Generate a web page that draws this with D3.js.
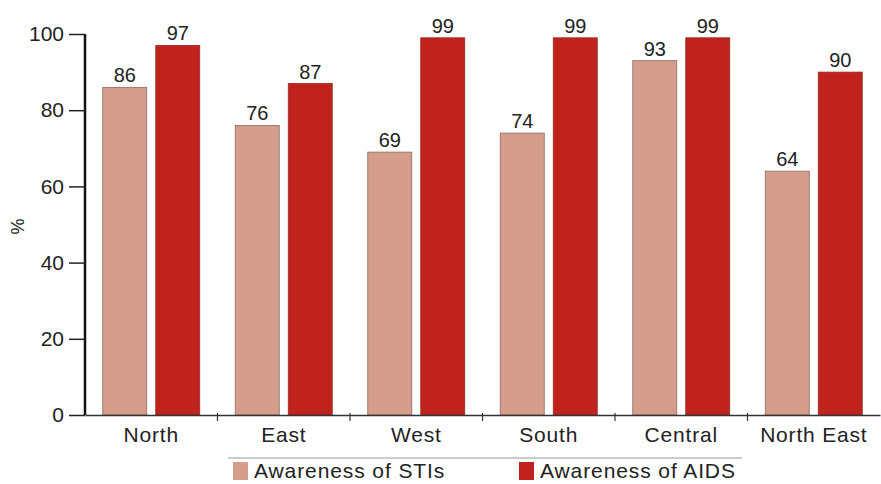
<!DOCTYPE html>
<html>
<head>
<meta charset="utf-8">
<script src="https://cdn.jsdelivr.net/npm/d3@7"></script>
<style>
    body { margin: 0; background: #fff; font-family: "Liberation Sans", Arial, sans-serif; }
    text { fill: #222; }
</style>
</head>
<body>
<script>
// data
var regions = ["North", "East", "West", "South", "Central", "North East"];
var stis = [86, 76, 69, 74, 93, 64];
var aids = [97, 87, 99, 99, 99, 90];
var yTicks = [0, 20, 40, 60, 80, 100];
var seriesNames = ["Awareness of STIs", "Awareness of AIDS"];
var seriesColors = ["#d49d8c", "#c0231d"];

var width = 881, height = 484;
var margin = {left: 85, right: 1, top: 34, bottom: 69};

var svg = d3.select("body").append("svg")
    .attr("width", width)
    .attr("height", height);

var x = d3.scaleBand()
    .domain(regions)
    .range([margin.left, width - margin.right]);

var xi = d3.scaleBand()
    .domain([0, 1])
    .range([0, x.bandwidth()])
    .paddingInner(0.17)
    .paddingOuter(0.335);

var y = d3.scaleLinear()
    .domain([0, 100])
    .range([height - margin.bottom, margin.top]);

var rows = regions.map(function(r, i) { return {region: r, values: [stis[i], aids[i]]}; });

var groups = svg.selectAll("g.region")
    .data(rows)
    .enter().append("g")
    .attr("class", "region")
    .attr("transform", function(d) { return "translate(" + x(d.region) + ",0)"; });

groups.selectAll("rect")
    .data(function(d) { return d.values; })
    .enter().append("rect")
    .attr("x", function(d, i) { return xi(i); })
    .attr("y", function(d) { return y(d); })
    .attr("width", xi.bandwidth())
    .attr("height", function(d) { return y(0) - y(d); })
    .style("fill", function(d, i) { return seriesColors[i]; })
    .style("stroke", function(d, i) { return i == 0 ? "#8a6a60" : "#9a2a22"; })
    .style("stroke-width", 0.8);

groups.selectAll("text.val")
    .data(function(d) { return d.values; })
    .enter().append("text")
    .attr("class", "val")
    .attr("x", function(d, i) { return xi(i) + xi.bandwidth() / 2; })
    .attr("y", function(d) { return y(d) - 5; })
    .attr("text-anchor", "middle")
    .style("font-size", "20px")
    .text(function(d) { return d; });

// y axis
var yAxis = svg.append("g")
    .attr("transform", "translate(" + margin.left + ",0)")
    .call(d3.axisLeft(y).tickValues(yTicks).tickSize(16).tickPadding(5));
yAxis.select(".domain").attr("stroke", "#111").attr("stroke-width", 2.5)
    .attr("d", "M0," + y(100) + "V" + y(0));
yAxis.selectAll(".tick line").attr("stroke", "#222").attr("stroke-width", 1.5);
yAxis.selectAll(".tick text")
    .style("font-size", "21px")
    .style("font-family", "Liberation Sans, Arial, sans-serif")
    .attr("fill", "#222");

// x axis
var xAxis = svg.append("g")
    .attr("transform", "translate(0," + y(0) + ")")
    .call(d3.axisBottom(x).tickSize(0).tickPadding(12));
xAxis.select(".domain").attr("stroke", "#333").attr("stroke-width", 1.5);
xAxis.selectAll(".tick text")
    .style("font-size", "21px")
    .style("letter-spacing", "0.8px")
    .style("font-family", "Liberation Sans, Arial, sans-serif")
    .attr("fill", "#222");

// small separators between the regions
svg.selectAll("line.sep")
    .data(regions.slice(1))
    .enter().append("line")
    .attr("class", "sep")
    .attr("x1", function(d) { return x(d); })
    .attr("x2", function(d) { return x(d); })
    .attr("y1", y(0) - 2)
    .attr("y2", y(0) + 6)
    .attr("stroke", "#333")
    .attr("stroke-width", 1.2);

// y label
svg.append("text")
    .attr("transform", "translate(24," + (y(50) + 2) + ") rotate(-90)")
    .attr("text-anchor", "middle")
    .style("font-size", "18px")
    .text("%");

// legend
svg.append("line")
    .attr("x1", 228).attr("x2", 742)
    .attr("y1", 458).attr("y2", 458)
    .attr("stroke", "#999")
    .attr("stroke-width", 1.2);

var legend = svg.selectAll("g.legend")
    .data(seriesNames)
    .enter().append("g")
    .attr("class", "legend")
    .attr("transform", function(d, i) { return "translate(" + [233, 519][i] + ",462)"; });

legend.append("rect")
    .attr("width", 15)
    .attr("height", 18)
    .style("fill", function(d, i) { return seriesColors[i]; });

legend.append("text")
    .attr("x", 21)
    .attr("y", 16)
    .style("font-size", "21px")
    .style("letter-spacing", "0.9px")
    .text(function(d) { return d; });
</script>
</body>
</html>
